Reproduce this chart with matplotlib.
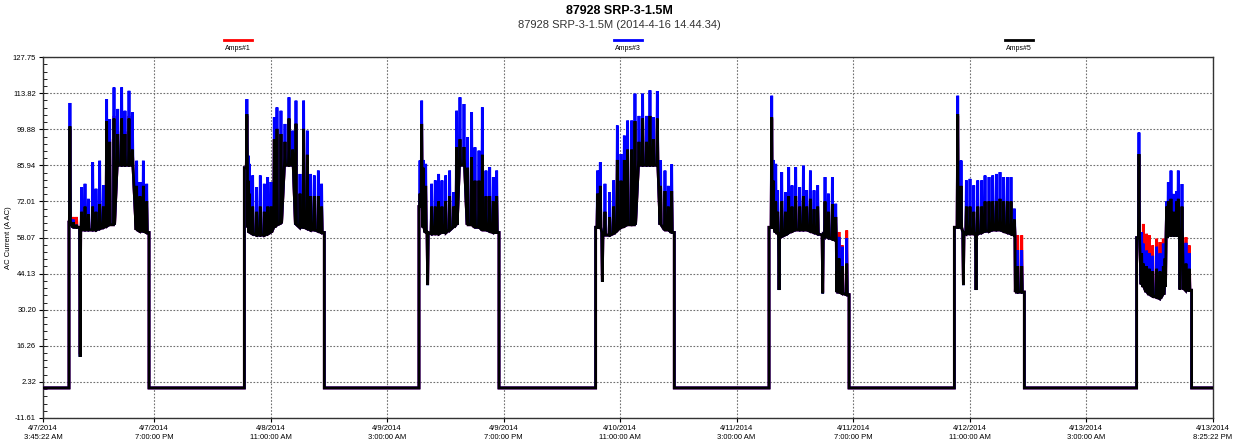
import matplotlib
matplotlib.use('Agg')
from datetime import datetime
import matplotlib.pyplot as plt
from matplotlib.lines import Line2D
from matplotlib.ticker import AutoMinorLocator

plt.rcParams['font.family'] = ['Liberation Sans', 'DejaVu Sans']

# --- Time axis (hours after first sample) ---
START = datetime(2014, 4, 7, 3, 45, 22)
END = datetime(2014, 4, 13, 20, 25, 22)
X_TICK_TIMES = [
    START,
    datetime(2014, 4, 7, 19, 0, 0), datetime(2014, 4, 8, 11, 0, 0),
    datetime(2014, 4, 9, 3, 0, 0), datetime(2014, 4, 9, 19, 0, 0),
    datetime(2014, 4, 10, 11, 0, 0), datetime(2014, 4, 11, 3, 0, 0),
    datetime(2014, 4, 11, 19, 0, 0), datetime(2014, 4, 12, 11, 0, 0),
    datetime(2014, 4, 13, 3, 0, 0),
    END,
]
Y_TICKS = [-11.61, 2.32, 16.26, 30.20, 44.13, 58.07, 72.01, 85.94, 99.88, 113.82, 127.75]

IDLE = 0.0
SERIES = ['Amps#1', 'Amps#3', 'Amps#5']
COLORS = ['#ff0000', '#0000ff', '#000000']

# --- Run on/off times (hours after START) ---
RUN_ON = [3.57, 27.65, 51.63, 75.89, 99.70, 125.15, 150.18]
RUN_OFF = [14.56, 38.63, 62.62, 86.69, 110.69, 134.76, 157.73]

# --- Spikes per run: time, level around the spike, peak per series ---
R1_T = [3.70, 4.15, 4.60, 5.10, 5.31, 5.77, 6.23, 6.82, 7.28, 7.78, 8.29, 8.74, 9.16, 9.75,
        10.26, 10.80, 11.26, 11.81, 12.27, 12.86, 13.32, 13.78, 14.24]
R1_BASE = [64, 62, 62, 62, 61, 61, 61, 61, 61, 61.5, 62, 62.5, 63, 63,
           86, 86, 86, 86, 86, 61, 60.5, 60.5, 60]
R1_BLACK = [101, 64, 63, 12, 68, 70, 67, 70, 68, 71, 70, 103, 95, 104,
            98, 104, 98, 104, 92, 78, 74, 78, 72]
R1_BLUE = [110, 65, 63, 12, 77.5, 78.8, 73.0, 87.1, 76.9, 87.7, 78.2, 111.5, 103.8, 116.0,
           107.7, 116.0, 107.0, 114.7, 106.4, 87.7, 79.5, 87.7, 78.8]
R1_RED = [100, 66, 66, 13, 68, 70, 67, 72, 68, 72, 70, 104, 96, 105,
          99, 105, 99, 105, 93, 79, 74, 79, 72]

R2_T = [28.00, 28.17, 28.33, 28.79, 29.34, 29.84, 30.39, 30.85, 31.31, 31.76, 32.13, 32.68,
        33.23, 33.78, 34.28, 34.74, 35.29, 35.79, 36.30, 36.75, 37.26, 37.81, 38.26]
R2_BASE = [85, 62, 60, 59.5, 59, 59, 59, 59.5, 60, 62, 63, 63.5,
           86, 86, 86, 63, 62, 62, 61.5, 61, 61, 60.5, 60]
R2_BLACK = [105.7, 80, 75, 70, 68, 70, 68, 70, 70, 96, 100, 98,
            95, 104, 92, 102, 75, 100, 90, 74, 74, 74, 70]
R2_BLUE = [111.5, 89.7, 86.5, 82.0, 77.5, 82.0, 78.8, 81.4, 79.5, 104.5, 108.3, 107.0,
           101.9, 112.2, 99.3, 110.9, 82.6, 110.9, 99.3, 82.6, 82.0, 83.9, 78.8]
R2_RED = [105, 80, 75, 70, 68, 70, 68, 70, 70, 96, 100, 98,
          95, 104, 92, 102, 75, 100, 90, 74, 74, 74, 70]

R3_T = [51.77, 52.00, 52.23, 52.55, 52.82, 53.37, 53.87, 54.33, 54.79, 55.29, 55.84, 56.39,
        56.80, 57.26, 57.81, 58.31, 58.86, 59.32, 59.87, 60.33, 60.83, 61.34, 61.84, 62.30]
R3_BASE = [70, 70, 62, 60, 60, 59.5, 59.5, 59.5, 60, 60, 61, 62,
           63, 86, 86, 63, 63, 62, 62, 61, 61, 60.5, 60, 60]
R3_BLACK = [75, 101.9, 85, 78, 39.7, 70, 70, 72, 70, 72, 74, 70,
            93, 96, 93, 85, 89, 80, 80, 90, 74, 74, 72, 74]
R3_BLUE = [87.8, 110.9, 88, 86.5, 39.7, 78.8, 80.1, 82.6, 80.1, 82.0, 83.9, 75.6,
           107.0, 112.2, 109.6, 96.8, 106.4, 92.9, 91.6, 108.3, 83.9, 85.2, 81.4, 83.9]
R3_RED = [75, 102, 85, 78, 40, 70, 70, 72, 70, 72, 74, 70,
          94, 96, 93, 85, 89, 80, 80, 90, 74, 74, 72, 74]

R4_T = [76.16, 76.53, 76.81, 77.17, 77.81, 78.36, 78.87, 79.37, 79.83, 80.28, 80.83,
        81.29, 81.84, 82.34, 82.89, 83.35, 83.81, 84.36, 84.81, 85.41, 85.87, 86.33]
R4_BASE = [62, 62, 60, 59, 59, 59.5, 61, 62, 62.5, 63, 63,
           63, 86, 86, 86, 86, 86, 86, 63, 61, 61, 60]
R4_BLACK = [75, 78, 41, 68, 66, 70, 88, 80, 88, 92, 92,
            103, 95, 104, 95, 105, 96, 104, 78, 76, 70, 76]
R4_BLUE = [83.9, 87.1, 41, 78.8, 75.6, 80.1, 101.3, 90.3, 97.4, 103.2, 103.2,
           113.6, 105.0, 113.6, 105.0, 114.9, 104.5, 114.6, 87.8, 83.9, 78.0, 86.3]
R4_RED = [75, 78, 42, 68, 66, 70, 88, 80, 88, 92, 92,
          103, 95, 104, 95, 105, 96, 104, 78, 76, 70, 76]

R5_T = [100.07, 100.30, 100.62, 100.89, 101.08, 101.44, 101.95, 102.40, 102.86, 103.36,
        103.91, 104.42, 104.87, 105.38, 105.88, 106.38, 107.07, 107.39, 107.85, 108.40,
        108.86, 109.06, 109.31, 109.77, 110.37]
R5_BASE = [62, 62, 60, 59.5, 59.5, 58.5, 59, 60, 60.5, 61,
           61, 61, 61, 60.5, 60, 59.5, 59, 58.5, 58, 57.5,
           57, 37, 37, 36.5, 36]
R5_BLACK = [104.5, 80, 72, 68, 37.8, 72, 68, 74, 70, 74,
            70, 74, 70, 73, 69, 70, 36.5, 72, 68, 71,
            66, 45, 50, 47, 48]
R5_BLUE = [112.8, 88, 86.5, 76.3, 37.8, 83.3, 75.6, 85.2, 78.2, 85.2,
           77.5, 85.8, 76.3, 83.9, 76.3, 78.2, 36.5, 81.4, 75.0, 81.4,
           71.1, 48, 58.3, 54.5, 57.7]
R5_RED = [104, 80, 72, 68, 38, 72, 68, 74, 70, 74,
          70, 74, 70, 73, 69, 70, 37, 72, 68, 71,
          66, 50, 60.2, 55, 60.8]

R6_T = [125.61, 126.07, 126.39, 126.80, 127.30, 127.81, 128.13, 128.36, 128.90, 129.36,
        129.91, 130.41, 130.92, 131.42, 131.92, 132.43, 132.93, 133.39, 133.60, 133.85, 134.40]
R6_BASE = [62, 62, 60, 59.5, 59.5, 59.5, 59.5, 59.5, 60, 60.5,
           60.5, 61, 61, 61, 60.5, 60, 59.5, 59, 37, 37, 37]
R6_BLACK = [105.7, 78, 39.7, 70, 70, 68, 37.8, 70, 70, 72,
            72, 72, 72, 73, 72, 72, 72, 65, 45, 47, 47]
R6_BLUE = [112.8, 87.8, 39.7, 80.1, 80.7, 78.2, 37.8, 80.1, 80.1, 82.0,
           81.4, 82.0, 82.6, 83.3, 81.4, 81.4, 81.4, 69.2, 48, 53.2, 53.2]
R6_RED = [105, 78, 40, 70, 70, 68, 38, 70, 70, 72,
          72, 72, 72, 73, 72, 72, 72, 65, 50, 58.9, 58.9]

R7_T = [150.50, 150.87, 151.10, 151.55, 151.92, 152.38, 152.93, 153.39, 153.84, 154.07,
        154.30, 154.53, 154.90, 155.31, 155.67, 155.90, 156.13, 156.41, 156.70, 156.96, 157.41]
R7_BASE = [58, 40, 39, 37, 36, 35.5, 35, 34.5, 36, 39,
           58, 58.9, 58.9, 58.9, 58.9, 58.9, 58.9, 58, 38, 37.7, 37.7]
R7_BLACK = [90.3, 52, 48, 47, 46, 45, 46, 45, 47, 50,
            70, 72, 73, 68, 72, 73, 38, 70, 45, 48, 46]
R7_BLUE = [98.6, 60, 55.7, 53, 52, 51, 54.5, 52, 55.7, 54,
           72, 79.4, 83.9, 74.9, 76, 83.9, 38, 78.7, 50, 56, 52]
R7_RED = [90, 58, 63.3, 59.5, 58.9, 55, 57.6, 56.3, 57.6, 55,
          70, 72, 73, 68, 72, 73, 38, 70, 55, 58.2, 55]

RUN_T = [R1_T, R2_T, R3_T, R4_T, R5_T, R6_T, R7_T]
RUN_BASE = [R1_BASE, R2_BASE, R3_BASE, R4_BASE, R5_BASE, R6_BASE, R7_BASE]
RUN_PEAKS = {
    'Amps#1': [R1_RED, R2_RED, R3_RED, R4_RED, R5_RED, R6_RED, R7_RED],
    'Amps#3': [R1_BLUE, R2_BLUE, R3_BLUE, R4_BLUE, R5_BLUE, R6_BLUE, R7_BLUE],
    'Amps#5': [R1_BLACK, R2_BLACK, R3_BLACK, R4_BLACK, R5_BLACK, R6_BLACK, R7_BLACK],
}

HALF = 0.08  # half width of a spike, hours


def hours(d):
    return (d - START).total_seconds() / 3600.0


def build_trace(peaks_per_run):
    xs, ys = [0.0], [IDLE]
    for on, off, t, base, peak in zip(RUN_ON, RUN_OFF, RUN_T, RUN_BASE, peaks_per_run):
        xs += [on, on]
        ys += [IDLE, base[0]]
        for ti, bi, pi in zip(t, base, peak):
            xs += [ti - HALF, ti, ti + HALF]
            ys += [bi, pi, bi]
        xs += [off, off]
        ys += [base[-1], IDLE]
    xs.append(hours(END))
    ys.append(IDLE)
    return xs, ys


def tick_label(d):
    return f"{d.month}/{d.day}/{d.year}\n{int(d.strftime('%I'))}:{d:%M:%S} {d:%p}"


fig = plt.figure(figsize=(12.38, 4.45), dpi=100)
ax = fig.add_axes([43 / 1238, 1 - 418 / 445, 1170 / 1238, 361 / 445])

for z, (name, color) in enumerate(zip(SERIES, COLORS)):
    xs, ys = build_trace(RUN_PEAKS[name])
    ax.plot(xs, ys, color=color, lw=2.0, zorder=3 + z, solid_joinstyle='miter')

ax.set_xlim(0, hours(END))
ax.set_ylim(Y_TICKS[0], Y_TICKS[-1])
ax.set_xticks([hours(d) for d in X_TICK_TIMES])
ax.set_xticklabels([tick_label(d) for d in X_TICK_TIMES], fontsize=5.5, linespacing=1.5)
ax.set_yticks(Y_TICKS)
ax.set_yticklabels([f'{v:.2f}' for v in Y_TICKS], fontsize=5.5)
ax.yaxis.set_minor_locator(AutoMinorLocator(5))
ax.tick_params(axis='both', which='major', direction='out', length=3, width=0.8, pad=2)
ax.tick_params(axis='y', which='minor', direction='in', length=3, width=0.6)
ax.grid(True, which='major', color='#707070', linestyle=(0, (1.5, 1.5)), lw=0.8, zorder=1)
for s in ax.spines.values():
    s.set_linewidth(1.0)
    s.set_color('#333333')
ax.set_ylabel('AC Current (A AC)', fontsize=5.5)
ax.yaxis.set_label_coords(-31 / 1170, 0.5)

# Titles
fig.text(0.5, 1 - 11 / 445, '87928 SRP-3-1.5M', ha='center', va='center',
         fontsize=9, fontweight='bold')
fig.text(0.5, 1 - 25 / 445, '87928 SRP-3-1.5M (2014-4-16 14.44.34)', ha='center',
         va='center', fontsize=8, color='#333333')

# Legend: line above label, spread across the top
for cx, name, color in zip([238, 628, 1019], SERIES, COLORS):
    fig.add_artist(Line2D([(cx - 14) / 1238, (cx + 14) / 1238], [1 - 40 / 445] * 2,
                          color=color, lw=2, transform=fig.transFigure))
    fig.text(cx / 1238, 1 - 49 / 445, name, ha='center', va='center', fontsize=5)

fig.savefig('out.png', dpi=100)
